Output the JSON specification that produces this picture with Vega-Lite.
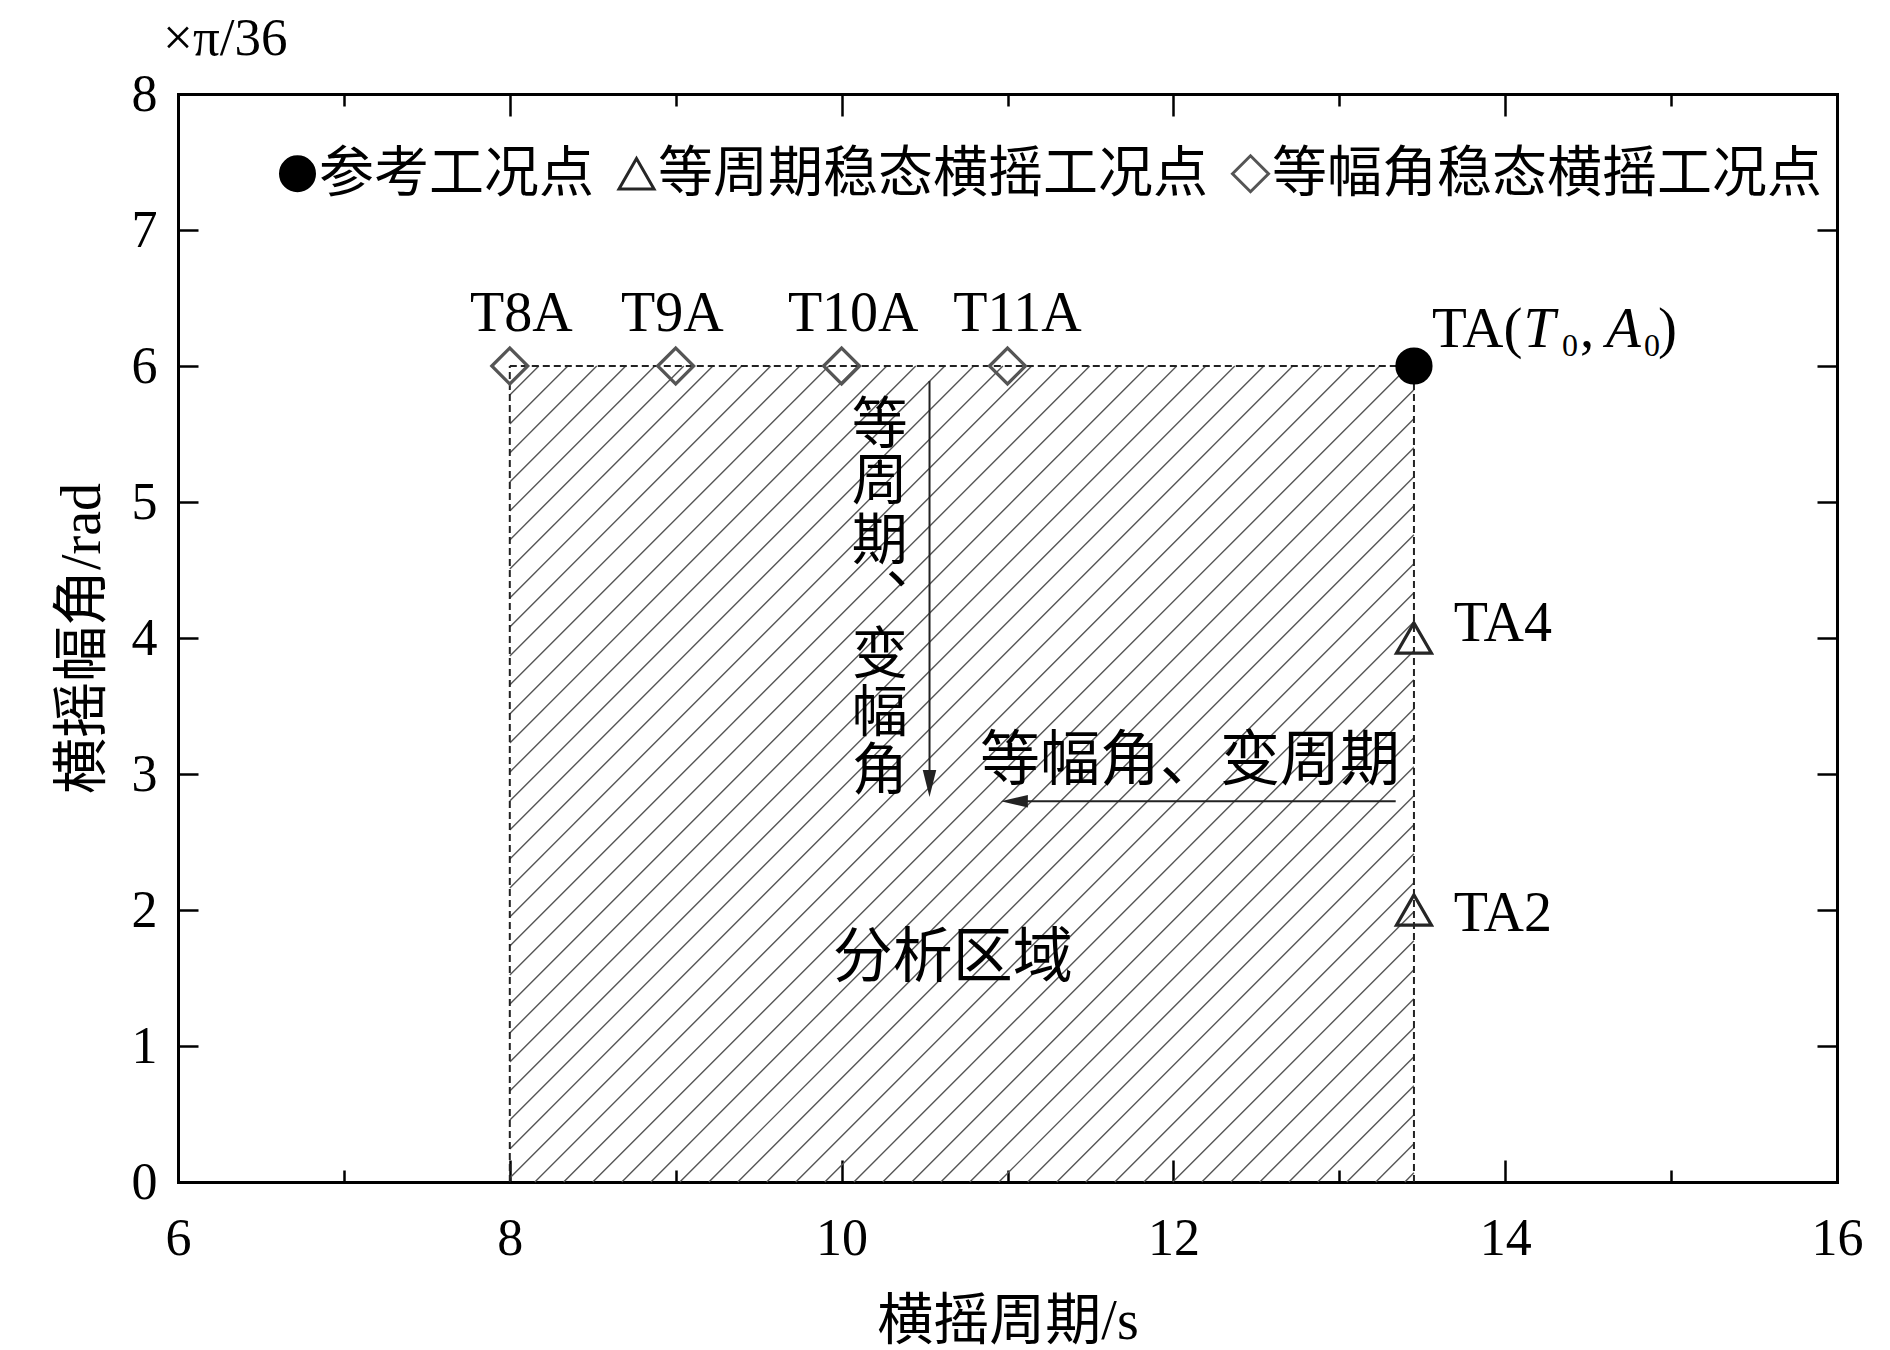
{
  "$schema": "https://vega.github.io/schema/vega-lite/v6.json",
  "width": 1659,
  "height": 1088,
  "autosize": "none",
  "padding": {"left": 178, "top": 94, "right": 53, "bottom": 168},
  "background": "white",
  "datasets": {
    "hatch": [
      {"T": 8, "A": 5.787, "T2": 8.175, "A2": 6},
      {"T": 8, "A": 5.574, "T2": 8.350, "A2": 6},
      {"T": 8, "A": 5.360, "T2": 8.524, "A2": 6},
      {"T": 8, "A": 5.147, "T2": 8.699, "A2": 6},
      {"T": 8, "A": 4.934, "T2": 8.874, "A2": 6},
      {"T": 8, "A": 4.721, "T2": 9.049, "A2": 6},
      {"T": 8, "A": 4.507, "T2": 9.224, "A2": 6},
      {"T": 8, "A": 4.294, "T2": 9.398, "A2": 6},
      {"T": 8, "A": 4.081, "T2": 9.573, "A2": 6},
      {"T": 8, "A": 3.868, "T2": 9.748, "A2": 6},
      {"T": 8, "A": 3.654, "T2": 9.923, "A2": 6},
      {"T": 8, "A": 3.441, "T2": 10.098, "A2": 6},
      {"T": 8, "A": 3.228, "T2": 10.272, "A2": 6},
      {"T": 8, "A": 3.015, "T2": 10.447, "A2": 6},
      {"T": 8, "A": 2.801, "T2": 10.622, "A2": 6},
      {"T": 8, "A": 2.588, "T2": 10.797, "A2": 6},
      {"T": 8, "A": 2.375, "T2": 10.972, "A2": 6},
      {"T": 8, "A": 2.162, "T2": 11.146, "A2": 6},
      {"T": 8, "A": 1.949, "T2": 11.321, "A2": 6},
      {"T": 8, "A": 1.735, "T2": 11.496, "A2": 6},
      {"T": 8, "A": 1.522, "T2": 11.671, "A2": 6},
      {"T": 8, "A": 1.309, "T2": 11.846, "A2": 6},
      {"T": 8, "A": 1.096, "T2": 12.020, "A2": 6},
      {"T": 8, "A": 0.882, "T2": 12.195, "A2": 6},
      {"T": 8, "A": 0.669, "T2": 12.370, "A2": 6},
      {"T": 8, "A": 0.456, "T2": 12.545, "A2": 6},
      {"T": 8, "A": 0.243, "T2": 12.720, "A2": 6},
      {"T": 8, "A": 0.029, "T2": 12.894, "A2": 6},
      {"T": 8.151, "A": 0, "T2": 13.069, "A2": 6},
      {"T": 8.325, "A": 0, "T2": 13.244, "A2": 6},
      {"T": 8.500, "A": 0, "T2": 13.419, "A2": 6},
      {"T": 8.675, "A": 0, "T2": 13.45, "A2": 5.825},
      {"T": 8.850, "A": 0, "T2": 13.45, "A2": 5.612},
      {"T": 9.025, "A": 0, "T2": 13.45, "A2": 5.399},
      {"T": 9.200, "A": 0, "T2": 13.45, "A2": 5.185},
      {"T": 9.374, "A": 0, "T2": 13.45, "A2": 4.972},
      {"T": 9.549, "A": 0, "T2": 13.45, "A2": 4.759},
      {"T": 9.724, "A": 0, "T2": 13.45, "A2": 4.546},
      {"T": 9.899, "A": 0, "T2": 13.45, "A2": 4.332},
      {"T": 10.074, "A": 0, "T2": 13.45, "A2": 4.119},
      {"T": 10.248, "A": 0, "T2": 13.45, "A2": 3.906},
      {"T": 10.423, "A": 0, "T2": 13.45, "A2": 3.693},
      {"T": 10.598, "A": 0, "T2": 13.45, "A2": 3.479},
      {"T": 10.773, "A": 0, "T2": 13.45, "A2": 3.266},
      {"T": 10.948, "A": 0, "T2": 13.45, "A2": 3.053},
      {"T": 11.122, "A": 0, "T2": 13.45, "A2": 2.840},
      {"T": 11.297, "A": 0, "T2": 13.45, "A2": 2.626},
      {"T": 11.472, "A": 0, "T2": 13.45, "A2": 2.413},
      {"T": 11.647, "A": 0, "T2": 13.45, "A2": 2.200},
      {"T": 11.822, "A": 0, "T2": 13.45, "A2": 1.987},
      {"T": 11.996, "A": 0, "T2": 13.45, "A2": 1.774},
      {"T": 12.171, "A": 0, "T2": 13.45, "A2": 1.560},
      {"T": 12.346, "A": 0, "T2": 13.45, "A2": 1.347},
      {"T": 12.521, "A": 0, "T2": 13.45, "A2": 1.134},
      {"T": 12.696, "A": 0, "T2": 13.45, "A2": 0.921},
      {"T": 12.870, "A": 0, "T2": 13.45, "A2": 0.707},
      {"T": 13.045, "A": 0, "T2": 13.45, "A2": 0.494},
      {"T": 13.220, "A": 0, "T2": 13.45, "A2": 0.281},
      {"T": 13.395, "A": 0, "T2": 13.45, "A2": 0.068}
    ],
    "border": [
      {"T": 8, "A": 6, "T2": 13.45, "A2": 6},
      {"T": 8, "A": 0, "T2": 8, "A2": 6},
      {"T": 13.45, "A": 0, "T2": 13.45, "A2": 6}
    ],
    "arrowLines": [
      {"T": 10.53, "A": 5.89, "T2": 10.53, "A2": 3.0},
      {"T": 13.34, "A": 2.80, "T2": 11.1, "A2": 2.80}
    ],
    "headDown": [{"T": 10.53, "A": 2.83}],
    "headLeft": [{"T": 10.96, "A": 2.80}],
    "points": [
      {"name": "TA", "T": 13.45, "A": 6, "type": "参考工况点"},
      {"name": "TA4", "T": 13.45, "A": 4, "type": "等周期稳态横摇工况点"},
      {"name": "TA2", "T": 13.45, "A": 2, "type": "等周期稳态横摇工况点"},
      {"name": "T8A", "T": 8, "A": 6, "type": "等幅角稳态横摇工况点"},
      {"name": "T9A", "T": 9, "A": 6, "type": "等幅角稳态横摇工况点"},
      {"name": "T10A", "T": 10, "A": 6, "type": "等幅角稳态横摇工况点"},
      {"name": "T11A", "T": 11, "A": 6, "type": "等幅角稳态横摇工况点"}
    ],
    "unitLabel": [{"text": "×π/36", "T": 5.91, "A": 8.29}],
    "labelsTop": [
      {"text": "T8A", "T": 8.07, "A": 6.254},
      {"text": "T9A", "T": 8.98, "A": 6.254},
      {"text": "T10A", "T": 10.07, "A": 6.254},
      {"text": "T11A", "T": 11.06, "A": 6.254}
    ],
    "labelsRight": [
      {"text": "TA4", "T": 13.69, "A": 3.977},
      {"text": "TA2", "T": 13.69, "A": 1.845}
    ],
    "taNormal": [
      {"text": "TA(", "T": 13.559, "A": 6.137},
      {"text": ",", "T": 14.451, "A": 6.137},
      {"text": ")", "T": 14.921, "A": 6.137}
    ],
    "taItalic": [
      {"text": "T", "T": 14.110, "A": 6.137},
      {"text": "A", "T": 14.608, "A": 6.137}
    ],
    "taSub": [
      {"text": "0", "T": 14.342, "A": 6.07},
      {"text": "0", "T": 14.837, "A": 6.07}
    ],
    "cjkH": [
      {"text": "等幅角、变周期", "T": 12.10, "A": 3.09},
      {"text": "分析区域", "T": 10.67, "A": 1.64}
    ],
    "cjkV": [
      {"text": "等", "T": 10.23, "A": 5.559},
      {"text": "周", "T": 10.23, "A": 5.147},
      {"text": "期", "T": 10.23, "A": 4.706},
      {"text": "︑", "T": 10.23, "A": 4.279},
      {"text": "变", "T": 10.23, "A": 3.868},
      {"text": "幅", "T": 10.23, "A": 3.441},
      {"text": "角", "T": 10.23, "A": 3.015}
    ]
  },
  "layer": [
    {
      "data": {"name": "hatch"},
      "mark": {"type": "rule", "color": "#555555", "strokeWidth": 1.4},
      "encoding": {
        "x": {"field": "T", "type": "quantitative", "scale": {"domain": [6, 16], "nice": false, "zero": false},
          "axis": {"orient": "bottom", "values": [6, 7, 8, 9, 10, 11, 12, 13, 14, 15, 16], "title": "横摇周期/s",
            "labelExpr": "datum.value % 2 === 0 ? datum.label : ''",
            "tickSize": {"condition": {"test": "datum.value % 2 !== 0", "value": -12}, "value": -22},
            "labelPadding": 53, "titlePadding": 20}},
        "x2": {"field": "T2"},
        "y": {"field": "A", "type": "quantitative", "scale": {"domain": [0, 8], "nice": false, "zero": false},
          "axis": {"orient": "left", "values": [0, 1, 2, 3, 4, 5, 6, 7, 8], "title": "横摇幅角/rad", "tickSize": -20, "labelPadding": 41, "titlePadding": 20}},
        "y2": {"field": "A2"}
      }
    },
    {
      "data": {"name": "border"},
      "mark": {"type": "rule", "color": "#222222", "strokeWidth": 2, "strokeDash": [7, 4]},
      "encoding": {
        "x": {"field": "T", "type": "quantitative",
          "axis": {"orient": "top", "values": [6, 7, 8, 9, 10, 11, 12, 13, 14, 15, 16], "title": null, "labels": false,
            "tickSize": {"condition": {"test": "datum.value % 2 !== 0", "value": -12}, "value": -22}}},
        "x2": {"field": "T2"},
        "y": {"field": "A", "type": "quantitative",
          "axis": {"orient": "right", "values": [0, 1, 2, 3, 4, 5, 6, 7, 8], "title": null, "labels": false, "tickSize": -20}},
        "y2": {"field": "A2"}
      }
    },
    {
      "data": {"name": "arrowLines"},
      "mark": {"type": "rule", "color": "#222222", "strokeWidth": 2},
      "encoding": {
        "x": {"field": "T", "type": "quantitative", "axis": null},
        "x2": {"field": "T2"},
        "y": {"field": "A", "type": "quantitative", "axis": null},
        "y2": {"field": "A2"}
      }
    },
    {
      "data": {"name": "headDown"},
      "mark": {"type": "point", "shape": "M0,0 L-0.25,-1 L0.25,-1 Z", "filled": true, "color": "#222222", "size": 2916, "opacity": 1},
      "encoding": {
        "x": {"field": "T", "type": "quantitative", "axis": null},
        "y": {"field": "A", "type": "quantitative", "axis": null}
      }
    },
    {
      "data": {"name": "headLeft"},
      "mark": {"type": "point", "shape": "M0,0 L1,-0.23 L1,0.23 Z", "filled": true, "color": "#222222", "size": 2916, "opacity": 1},
      "encoding": {
        "x": {"field": "T", "type": "quantitative", "axis": null},
        "y": {"field": "A", "type": "quantitative", "axis": null}
      }
    },
    {
      "data": {"name": "cjkH"},
      "mark": {"type": "text", "font": "Noto Sans CJK SC", "fontSize": 60, "align": "center", "baseline": "middle", "color": "black"},
      "encoding": {
        "x": {"field": "T", "type": "quantitative", "axis": null},
        "y": {"field": "A", "type": "quantitative", "axis": null},
        "text": {"field": "text"}
      }
    },
    {
      "data": {"name": "cjkV"},
      "mark": {"type": "text", "font": "Noto Sans CJK SC", "fontSize": 56, "align": "center", "baseline": "middle", "color": "black"},
      "encoding": {
        "x": {"field": "T", "type": "quantitative", "axis": null},
        "y": {"field": "A", "type": "quantitative", "axis": null},
        "text": {"field": "text"}
      }
    },
    {
      "data": {"name": "unitLabel"},
      "mark": {"type": "text", "font": "Liberation Serif", "fontSize": 53, "align": "left", "baseline": "alphabetic", "color": "black", "clip": false},
      "encoding": {
        "x": {"field": "T", "type": "quantitative", "axis": null},
        "y": {"field": "A", "type": "quantitative", "axis": null},
        "text": {"field": "text"}
      }
    },
    {
      "data": {"name": "labelsTop"},
      "mark": {"type": "text", "font": "Liberation Serif", "fontSize": 56, "align": "center", "baseline": "alphabetic", "color": "black"},
      "encoding": {
        "x": {"field": "T", "type": "quantitative", "axis": null},
        "y": {"field": "A", "type": "quantitative", "axis": null},
        "text": {"field": "text"}
      }
    },
    {
      "data": {"name": "labelsRight"},
      "mark": {"type": "text", "font": "Liberation Serif", "fontSize": 56, "align": "left", "baseline": "alphabetic", "color": "black"},
      "encoding": {
        "x": {"field": "T", "type": "quantitative", "axis": null},
        "y": {"field": "A", "type": "quantitative", "axis": null},
        "text": {"field": "text"}
      }
    },
    {
      "data": {"name": "taNormal"},
      "mark": {"type": "text", "font": "Liberation Serif", "fontSize": 57, "align": "left", "baseline": "alphabetic", "color": "black"},
      "encoding": {
        "x": {"field": "T", "type": "quantitative", "axis": null},
        "y": {"field": "A", "type": "quantitative", "axis": null},
        "text": {"field": "text"}
      }
    },
    {
      "data": {"name": "taItalic"},
      "mark": {"type": "text", "font": "Liberation Serif", "fontSize": 57, "fontStyle": "italic", "align": "left", "baseline": "alphabetic", "color": "black"},
      "encoding": {
        "x": {"field": "T", "type": "quantitative", "axis": null},
        "y": {"field": "A", "type": "quantitative", "axis": null},
        "text": {"field": "text"}
      }
    },
    {
      "data": {"name": "taSub"},
      "mark": {"type": "text", "font": "Liberation Serif", "fontSize": 32, "align": "left", "baseline": "alphabetic", "color": "black"},
      "encoding": {
        "x": {"field": "T", "type": "quantitative", "axis": null},
        "y": {"field": "A", "type": "quantitative", "axis": null},
        "text": {"field": "text"}
      }
    },
    {
      "data": {"name": "points"},
      "mark": {"type": "point", "strokeWidth": 3.2, "opacity": 1},
      "encoding": {
        "x": {"field": "T", "type": "quantitative", "axis": null},
        "y": {"field": "A", "type": "quantitative", "axis": null},
        "shape": {"field": "type", "type": "nominal", "title": null,
          "scale": {"domain": ["参考工况点", "等周期稳态横摇工况点", "等幅角稳态横摇工况点"], "range": ["circle", "triangle-up", "diamond"]}},
        "fill": {"field": "type", "type": "nominal", "title": null,
          "scale": {"domain": ["参考工况点", "等周期稳态横摇工况点", "等幅角稳态横摇工况点"], "range": ["#000000", "transparent", "transparent"]}},
        "stroke": {"field": "type", "type": "nominal", "title": null,
          "scale": {"domain": ["参考工况点", "等周期稳态横摇工况点", "等幅角稳态横摇工况点"], "range": ["#000000", "#262626", "#555555"]}},
        "size": {"field": "type", "type": "nominal", "title": null,
          "scale": {"domain": ["参考工况点", "等周期稳态横摇工况点", "等幅角稳态横摇工况点"], "range": [1156, 1296, 729]}}
      }
    }
  ],
  "resolve": {"axis": {"x": "independent", "y": "independent"}},
  "config": {
    "view": {"stroke": null},
    "axis": {
      "grid": false,
      "domainColor": "black",
      "domainWidth": 3,
      "domainCap": "square",
      "tickColor": "black",
      "tickWidth": 2.5,
      "labelFont": "Liberation Serif",
      "labelFontSize": 52,
      "labelColor": "black",
      "labelFlush": false,
      "labelOverlap": false,
      "titleFont": "Liberation Serif, Noto Sans CJK SC",
      "titleFontSize": 56,
      "titleFontWeight": "normal",
      "titleColor": "black"
    },
    "legend": {
      "orient": "none",
      "legendX": 92,
      "legendY": 52,
      "direction": "horizontal",
      "labelFont": "Noto Sans CJK SC",
      "labelFontSize": 55,
      "labelColor": "black",
      "labelLimit": 1000,
      "labelOffset": -6,
      "columnPadding": 14,
      "symbolStrokeWidth": 3
    }
  }
}
